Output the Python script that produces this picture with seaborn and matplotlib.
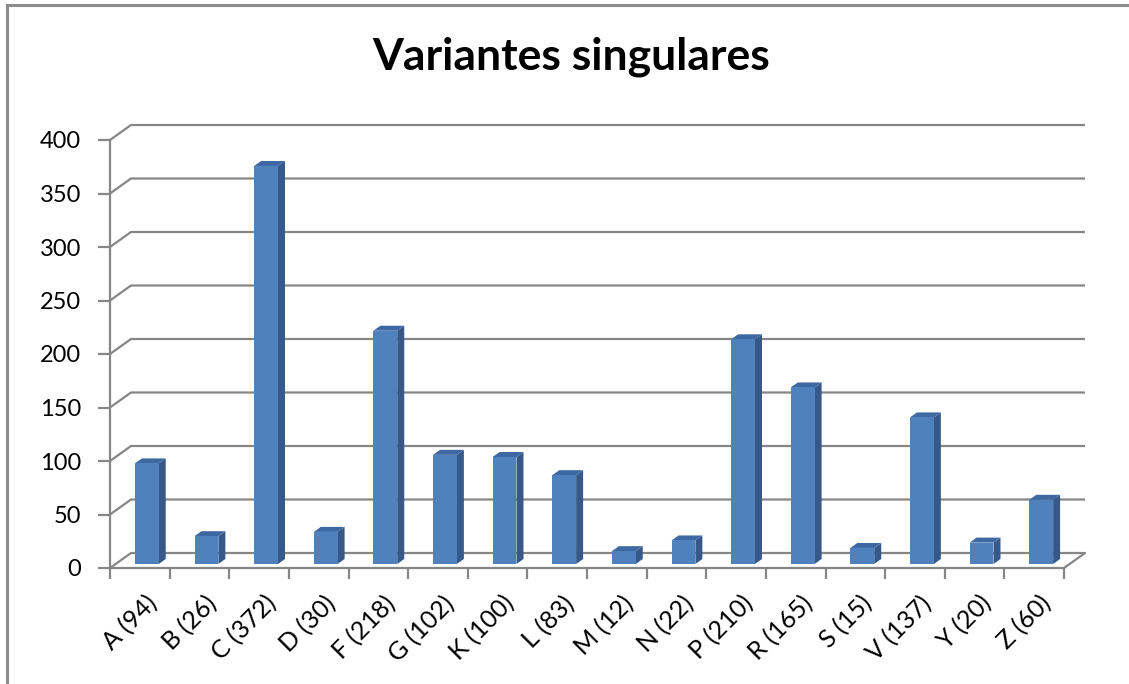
import matplotlib
matplotlib.use("Agg")
import matplotlib.pyplot as plt
import matplotlib.transforms as mtransforms
from matplotlib.patches import Polygon
from matplotlib.lines import Line2D
import seaborn as sns
import pandas as pd

# Data
categories = ["A (94)", "B (26)", "C (372)", "D (30)", "F (218)", "G (102)",
              "K (100)", "L (83)", "M (12)", "N (22)", "P (210)", "R (165)",
              "S (15)", "V (137)", "Y (20)", "Z (60)"]
values = [94, 26, 372, 30, 218, 102, 100, 83, 12, 22, 210, 165, 15, 137, 20, 60]
y_ticks = list(range(0, 401, 50))
title = "Variantes singulares"

df = pd.DataFrame({"cat": categories, "val": values})

sns.set_theme(style="white")
plt.rcParams["font.family"] = ["Lato", "DejaVu Sans"]

FW, FH, DPI = 1129, 684, 100
fig = plt.figure(figsize=(FW / DPI, FH / DPI), dpi=DPI)
fig.patch.set_facecolor("white")

# front plane of the 3-D box, in figure pixels
left_px, right_px, floor_px, top_px = 110, 1064, 568, 140
ax = fig.add_axes([left_px / FW, (FH - floor_px) / FH,
                   (right_px - left_px) / FW, (floor_px - top_px) / FH])
ax.set_facecolor("none")

n = len(categories)
ymax = 400
ax.set_xlim(-0.5, n - 0.5)
ax.set_ylim(0, ymax)

cat_px = (right_px - left_px) / n
unit_px = (floor_px - top_px) / ymax

# depth of the chart box and of each column (pixels -> data units)
box_dx, box_dy = 21 / cat_px, 15 / unit_px
bar_dx, bar_dy = 7 / cat_px, 5 / unit_px
shift_x, lift_y = 7 / cat_px, 4 / unit_px

grid_c = "#868686"
front_c = "#4F81BD"
side_c = "#36598A"
top_c = "#3E68A2"

# back wall gridlines with the diagonal on the side wall
x0, x1 = -0.5, n - 0.5
for v in y_ticks:
    ax.plot([x0, x0 + box_dx, x1 + box_dx], [v, v + box_dy, v + box_dy],
            color=grid_c, lw=1.6, clip_on=False, zorder=1, solid_capstyle="butt")
# right edge of the floor
ax.plot([x1, x1 + box_dx], [0, box_dy], color=grid_c, lw=1.6, clip_on=False, zorder=1)

# columns
sns.barplot(data=df, x="cat", y="val", color=front_c, saturation=1,
            width=0.4, linewidth=0, ax=ax, zorder=3)

for p in ax.patches[:n]:
    p.set_x(p.get_x() + shift_x)
    p.set_y(lift_y)
    p.set_clip_on(False)
    xl = p.get_x()
    xr = xl + p.get_width()
    yb = p.get_y()
    yt = yb + p.get_height()
    side = Polygon([(xr, yb), (xr + bar_dx, yb + bar_dy),
                    (xr + bar_dx, yt + bar_dy), (xr, yt)],
                   closed=True, facecolor=side_c, edgecolor="none",
                   zorder=2.9, clip_on=False)
    top = Polygon([(xl, yt), (xr, yt), (xr + bar_dx, yt + bar_dy),
                   (xl + bar_dx, yt + bar_dy)],
                  closed=True, facecolor=top_c, edgecolor="none",
                  zorder=2.9, clip_on=False)
    ax.add_patch(side)
    ax.add_patch(top)

# axes
for s in ["top", "right"]:
    ax.spines[s].set_visible(False)
for s in ["left", "bottom"]:
    ax.spines[s].set_color(grid_c)
    ax.spines[s].set_linewidth(1.6)
    ax.spines[s].set_zorder(4)

ax.set_yticks(y_ticks)
ax.set_yticklabels([str(v) for v in y_ticks])
ax.tick_params(axis="y", length=9, width=1.6, color=grid_c, labelsize=17,
               labelcolor="#000000", pad=12, left=True)

ax.set_xticks(range(n))
ax.set_xticklabels(categories, rotation=45, ha="right", rotation_mode="anchor")
ax.tick_params(axis="x", which="major", length=0, labelsize=18,
               labelcolor="#000000", pad=17)
ax.set_xticks([i - 0.5 for i in range(n + 1)], minor=True)
ax.tick_params(axis="x", which="minor", length=8, width=1.6, color=grid_c,
               bottom=True)
lbl_off = mtransforms.ScaledTranslation(5 / DPI, 0, fig.dpi_scale_trans)
for lbl in ax.get_xticklabels():
    lbl.set_transform(lbl.get_transform() + lbl_off)

ax.set_xlabel("")
ax.set_ylabel("")
ax.grid(False)

# title
fig.text(571 / FW, 1 - 57 / FH, title, ha="center", va="center",
         fontsize=32, fontweight="bold", color="#000000")

# chart area border (left and top edges)
bx, by = 7 / FW, 1 - 5 / FH
fig.add_artist(Line2D([bx, bx], [0, by], transform=fig.transFigure,
                      color="#8C8C8C", lw=2.2, solid_capstyle="projecting"))
fig.add_artist(Line2D([bx, 1], [by, by], transform=fig.transFigure,
                      color="#8C8C8C", lw=2.2, solid_capstyle="projecting"))

fig.savefig("out.png", dpi=DPI, facecolor="white")
